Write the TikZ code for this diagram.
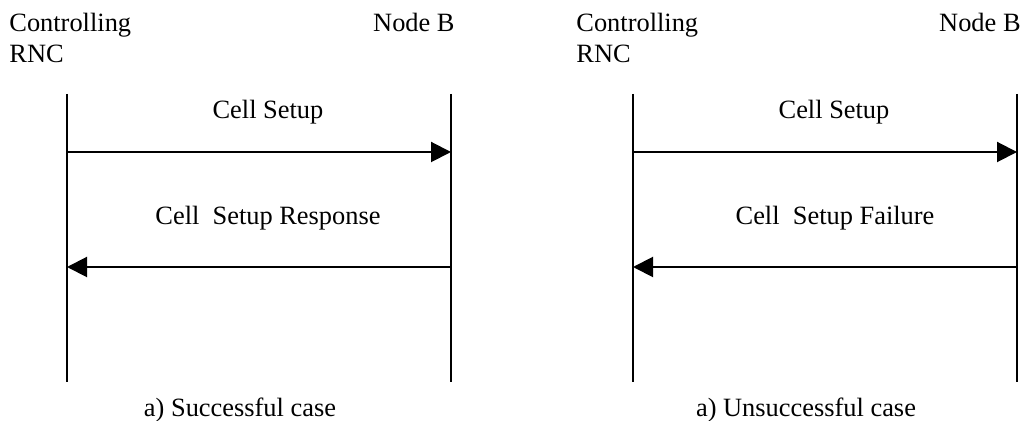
\documentclass[tikz,border=0pt]{standalone}
\usepackage{fontspec}
\setmainfont{Liberation Serif}
\usetikzlibrary{arrows.meta}
\begin{document}
\begin{tikzpicture}[x=0.5pt,y=-0.5pt,
  txt/.style={inner sep=0pt,font=\fontsize{13.2pt}{15pt}\selectfont},
  life/.style={line width=1pt},
  msg/.style={line width=1pt,-{Triangle[length=10pt,width=10pt]}}]
\useasboundingbox (0,0) rectangle (1026,421);
% left panel
\coordinate (LAt) at (67,94);  \coordinate (LAb) at (67,382);
\coordinate (LBt) at (451,94); \coordinate (LBb) at (451,382);
\draw[life] (LAt) -- (LAb);
\draw[life] (LBt) -- (LBb);
\node[txt,anchor=base west] (lc) at (9,32) {Controlling};
\node[txt,anchor=base west] (lr) at (9,63) {RNC};
\node[txt,anchor=base east] (lnb) at (455,32) {Node B};
\coordinate (L1a) at (67,152); \coordinate (L1b) at (451,152);
\coordinate (L2a) at (67,267); \coordinate (L2b) at (451,267);
\draw[msg] (L1a) -- (L1b);
\draw[msg] (L2b) -- (L2a);
\node[txt,anchor=base] (lm1) at (268,119) {Cell Setup};
\node[txt,anchor=base] (lm2) at (268,225) {Cell\ \ Setup Response};
\node[txt,anchor=base] (lcap) at (240,416) {a) Successful case};
% right panel
\coordinate (RAt) at (633,94);  \coordinate (RAb) at (633,382);
\coordinate (RBt) at (1017,94); \coordinate (RBb) at (1017,382);
\draw[life] (RAt) -- (RAb);
\draw[life] (RBt) -- (RBb);
\node[txt,anchor=base west] (rc) at (576,32) {Controlling};
\node[txt,anchor=base west] (rr) at (576,63) {RNC};
\node[txt,anchor=base east] (rnb) at (1021,32) {Node B};
\coordinate (R1a) at (633,152); \coordinate (R1b) at (1017,152);
\coordinate (R2a) at (633,267); \coordinate (R2b) at (1017,267);
\draw[msg] (R1a) -- (R1b);
\draw[msg] (R2b) -- (R2a);
\node[txt,anchor=base] (rm1) at (834,119) {Cell Setup};
\node[txt,anchor=base] (rm2) at (835,225) {Cell\ \ Setup Failure};
\node[txt,anchor=base] (rcap) at (806,416) {a) Unsuccessful case};
\end{tikzpicture}
\end{document}
